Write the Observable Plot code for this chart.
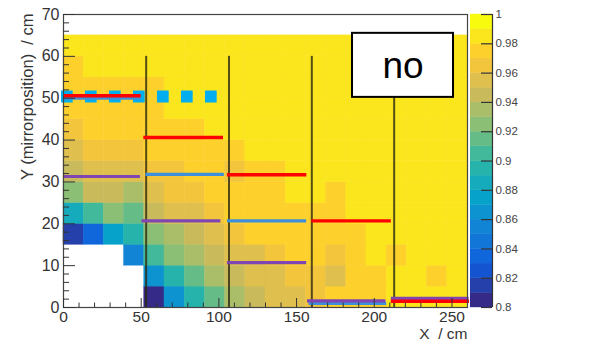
<!DOCTYPE html>
<html>
<head>
<meta charset="utf-8">
<script src="https://cdn.jsdelivr.net/npm/d3@7"></script>
<script src="https://cdn.jsdelivr.net/npm/@observablehq/plot@0.6"></script>
<style>
  html, body { margin: 0; padding: 0; background: white; }
  #wrap { position: relative; width: 589px; height: 343px; overflow: hidden; }
  #wrap svg { position: absolute; top: 0; }
</style>
</head>
<body>
<div id="wrap"></div>
<script>
// ---- bin edges (cm) ----
const xEdges = [0, 13, 26, 39, 52, 65, 78, 91, 104, 117, 130, 143, 156, 169, 182, 195, 208, 221, 234, 247, 260];
const yEdges = [0, 5, 10, 15, 20, 25, 30, 35, 40, 45, 50, 55, 60, 65];

// ---- efficiency per row (bottom row first), 20 x-bins each ----
const eff_y00 = [null, null, null, null, 0.805, 0.865, 0.895, 0.915, 0.935, 0.945, 0.955, 0.955, 0.965, 0.975, 0.975, 0.975, 0.985, 0.985, 0.985, 0.985];
const eff_y05 = [null, null, null, null, 0.865, 0.895, 0.915, 0.935, 0.945, 0.955, 0.955, 0.965, 0.965, 0.955, 0.975, 0.975, 0.985, 0.985, 0.975, 0.985];
const eff_y10 = [null, null, null, 0.855, 0.905, 0.925, 0.935, 0.945, 0.955, 0.955, 0.965, 0.975, 0.975, 0.965, 0.975, 0.985, 0.975, 0.985, 0.985, 0.985];
const eff_y15 = [0.815, 0.835, 0.875, 0.895, 0.925, 0.935, 0.945, 0.955, 0.965, 0.975, 0.975, 0.975, 0.975, 0.975, 0.975, 0.985, 0.985, 0.985, 0.985, 0.985];
const eff_y20 = [0.885, 0.905, 0.925, 0.915, 0.945, 0.955, 0.955, 0.965, 0.975, 0.975, 0.975, 0.975, 0.975, 0.975, 0.985, 0.985, 0.985, 0.985, 0.985, 0.985];
const eff_y25 = [0.925, 0.945, 0.945, 0.935, 0.955, 0.965, 0.965, 0.975, 0.975, 0.975, 0.975, 0.985, 0.985, 0.975, 0.985, 0.985, 0.985, 0.985, 0.985, 0.985];
const eff_y30 = [0.945, 0.955, 0.955, 0.955, 0.965, 0.965, 0.975, 0.975, 0.965, 0.975, 0.975, 0.985, 0.985, 0.985, 0.985, 0.985, 0.985, 0.985, 0.985, 0.985];
const eff_y35 = [0.955, 0.965, 0.965, 0.965, 0.975, 0.975, 0.975, 0.975, 0.975, 0.985, 0.985, 0.985, 0.985, 0.985, 0.985, 0.985, 0.985, 0.985, 0.985, 0.985];
const eff_y40 = [0.965, 0.975, 0.975, 0.975, 0.975, 0.975, 0.975, 0.985, 0.985, 0.985, 0.985, 0.985, 0.985, 0.985, 0.985, 0.985, 0.985, 0.985, 0.985, 0.985];
const eff_y45 = [0.975, 0.975, 0.975, 0.975, 0.975, 0.985, 0.985, 0.985, 0.985, 0.985, 0.985, 0.985, 0.985, 0.985, 0.985, 0.985, 0.985, 0.985, 0.985, 0.985];
const eff_y50 = [0.975, 0.975, 0.975, 0.975, 0.975, 0.985, 0.985, 0.985, 0.985, 0.985, 0.985, 0.985, 0.985, 0.985, 0.985, 0.985, 0.985, 0.985, 0.985, 0.985];
const eff_y55 = [0.975, 0.985, 0.985, 0.985, 0.985, 0.985, 0.985, 0.985, 0.985, 0.985, 0.985, 0.985, 0.985, 0.985, 0.985, 0.985, 0.985, 0.985, 0.985, 0.985];
const eff_y60 = [0.985, 0.985, 0.985, 0.985, 0.985, 0.985, 0.985, 0.985, 0.985, 0.985, 0.985, 0.985, 0.985, 0.985, 0.985, 0.985, 0.985, 0.985, 0.985, 0.985];

// ---- overlay segments ----
const separatorLines = [
  {x: 53.2, y1: 0, y2: 60}, {x: 106.5, y1: 0, y2: 60},
  {x: 159.8, y1: 0, y2: 60}, {x: 212.8, y1: 0, y2: 60}
];
const blueSegments = [
  {x1: 0, x2: 50, y: 50.0}, {x1: 53, x2: 103.5, y: 31.8},
  {x1: 105.5, x2: 156.5, y: 20.7}, {x1: 158, x2: 208, y: 1.0}
];
const purpleSegments = [
  {x1: 0, x2: 49.5, y: 31.3}, {x1: 50.5, x2: 101.3, y: 20.7},
  {x1: 105.5, x2: 156.5, y: 10.7}, {x1: 157, x2: 207.5, y: 1.6}, {x1: 211, x2: 261, y: 2.2}
];
const redSegments = [
  {x1: 0, x2: 50, y: 50.6}, {x1: 51.7, x2: 103, y: 40.6},
  {x1: 105.5, x2: 156.6, y: 31.7}, {x1: 159.8, x2: 211, y: 20.7}, {x1: 211, x2: 261.3, y: 1.5}
];
const cyanDotted = [{x1: -1.3, x2: 99, y: 50.4}];
const noBox = [{x1: 186, x2: 251, y1: 50.2, y2: 65.5, label: "no"}];

// ---- axes ----
const xTicks = [0, 50, 100, 150, 200, 250];
const yTicks = [0, 10, 20, 30, 40, 50, 60, 70];
const colorTicks = [0.8, 0.82, 0.84, 0.86, 0.88, 0.9, 0.92, 0.94, 0.96, 0.98, 1];
const xTitle = "X\u00a0 / cm";
const yTitle = "Y (mirrorposition)\u00a0 / cm";

// ---- kBird palette, 20 contour levels between 0.8 and 1 ----
const levelEdges = [0.8, 0.81, 0.82, 0.83, 0.84, 0.85, 0.86, 0.87, 0.88, 0.89, 0.9, 0.91, 0.92, 0.93, 0.94, 0.95, 0.96, 0.97, 0.98, 0.99, 1.0];
const birdColors = ["#352A87","#253FAB","#1554D0","#1066DB","#1275D8","#1284D5","#0D93CF","#07A2CA","#15ABBC","#25B3AC",
                    "#41B99A","#66BC87","#8BBF75","#AABD69","#C9BB5C","#DFBF4D","#F2C53C","#FDD02C","#FBE51D","#F9FB0E"];

const effRows = [eff_y00, eff_y05, eff_y10, eff_y15, eff_y20, eff_y25, eff_y30, eff_y35, eff_y40, eff_y45, eff_y50, eff_y55, eff_y60];
const cells = [];
effRows.forEach((row, r) => row.forEach((v, c) => {
  if (v != null) cells.push({x1: xEdges[c], x2: xEdges[c + 1], y1: yEdges[r], y2: yEdges[r + 1], v});
}));
const thresholds = levelEdges.slice(1, -1);
const levels = levelEdges.slice(0, -1).map((lo, i) => ({lo, hi: levelEdges[i + 1], mid: (lo + levelEdges[i + 1]) / 2}));

const colorOpt = {type: "threshold", domain: thresholds, range: birdColors};
const font = "'Liberation Sans', Arial, Helvetica, sans-serif";
const frameW = 589 - 63 - 122, frameH = 343 - 14 - 36;

const main = Plot.plot({
  width: 589, height: 343,
  marginLeft: 63, marginRight: 122, marginTop: 14, marginBottom: 36,
  x: {domain: [0, 260]},
  y: {domain: [0, 70]},
  color: colorOpt,
  style: {fontFamily: font, color: "#333", background: "transparent"},
  marks: [
    Plot.rect(cells, {x1: "x1", x2: "x2", y1: "y1", y2: "y2", fill: "v", stroke: "v", strokeWidth: 0.5}),
    Plot.ruleX(separatorLines, {x: "x", y1: "y1", y2: "y2", stroke: "#2b2810", strokeOpacity: 0.8, strokeWidth: 2}),
    Plot.ruleY(cyanDotted, {x1: "x1", x2: "x2", y: "y", stroke: "#00AEEF", strokeWidth: 12, strokeDasharray: "11.7,12.3"}),
    Plot.ruleY(blueSegments, {x1: "x1", x2: "x2", y: "y", stroke: "#3D8FDB", strokeWidth: 3.2}),
    Plot.ruleY(purpleSegments, {x1: "x1", x2: "x2", y: "y", stroke: "#7F46B3", strokeWidth: 3.2}),
    Plot.ruleY(redSegments, {x1: "x1", x2: "x2", y: "y", stroke: "#FF0000", strokeWidth: 3.4}),
    Plot.frame({stroke: "#444", strokeWidth: 1.2}),
    Plot.tickY(yTicks, {y: d => d, insetRight: frameW - 12, stroke: "#333"}),
    Plot.tickY(d3.range(0, 70, 2).filter(d => d % 10), {y: d => d, insetRight: frameW - 6, stroke: "#333"}),
    Plot.tickX(xTicks, {x: d => d, insetTop: frameH - 9, stroke: "#333"}),
    Plot.tickX(d3.range(0, 260, 10).filter(d => d % 50), {x: d => d, insetTop: frameH - 4.5, stroke: "#333"}),
    Plot.axisY({ticks: yTicks, tickSize: 0, tickPadding: 4, fontSize: 16, label: null}),
    Plot.axisX({ticks: xTicks, tickSize: 0, tickPadding: 3, fontSize: 15.5, label: null}),
    Plot.rect(noBox, {x1: "x1", x2: "x2", y1: "y1", y2: "y2", fill: "white", stroke: "black", strokeWidth: 2}),
    Plot.text(noBox, {x: d => (d.x1 + d.x2) / 2, y: d => (d.y1 + d.y2) / 2, text: "label", fontSize: 37, fill: "black", dy: 1}),
    Plot.text([yTitle], {text: d => d, frameAnchor: "top-left", rotate: -90, textAnchor: "end", dx: -42, dy: -1, fontSize: 16.5, fill: "#333"}),
    Plot.text([xTitle], {text: d => d, frameAnchor: "bottom-right", textAnchor: "end", dy: 31, fontSize: 15.5, fill: "#333"})
  ]
});
main.style.left = "0px";

const bar = Plot.plot({
  width: 119, height: 343,
  marginLeft: 0, marginRight: 97, marginTop: 14, marginBottom: 36,
  x: {domain: [0, 1], axis: null},
  y: {domain: [0.8, 1]},
  color: colorOpt,
  style: {fontFamily: font, color: "#444", background: "transparent"},
  marks: [
    Plot.rect(levels, {x1: 0, x2: 1, y1: "lo", y2: "hi", fill: "mid", stroke: "mid", strokeWidth: 0.4}),
    Plot.ruleX([1], {stroke: "#333", strokeWidth: 1.2}),
    Plot.tickY(colorTicks, {y: d => d, insetLeft: 11, stroke: "#333", strokeWidth: 1.2}),
    Plot.axisY({anchor: "right", ticks: colorTicks, tickSize: 0, tickPadding: 3, fontSize: 11.5, label: null,
                tickFormat: d => String(+d.toFixed(2))})
  ]
});
bar.style.left = "470px";

const wrap = document.getElementById("wrap");
wrap.appendChild(main);
wrap.appendChild(bar);
</script>
</body>
</html>
